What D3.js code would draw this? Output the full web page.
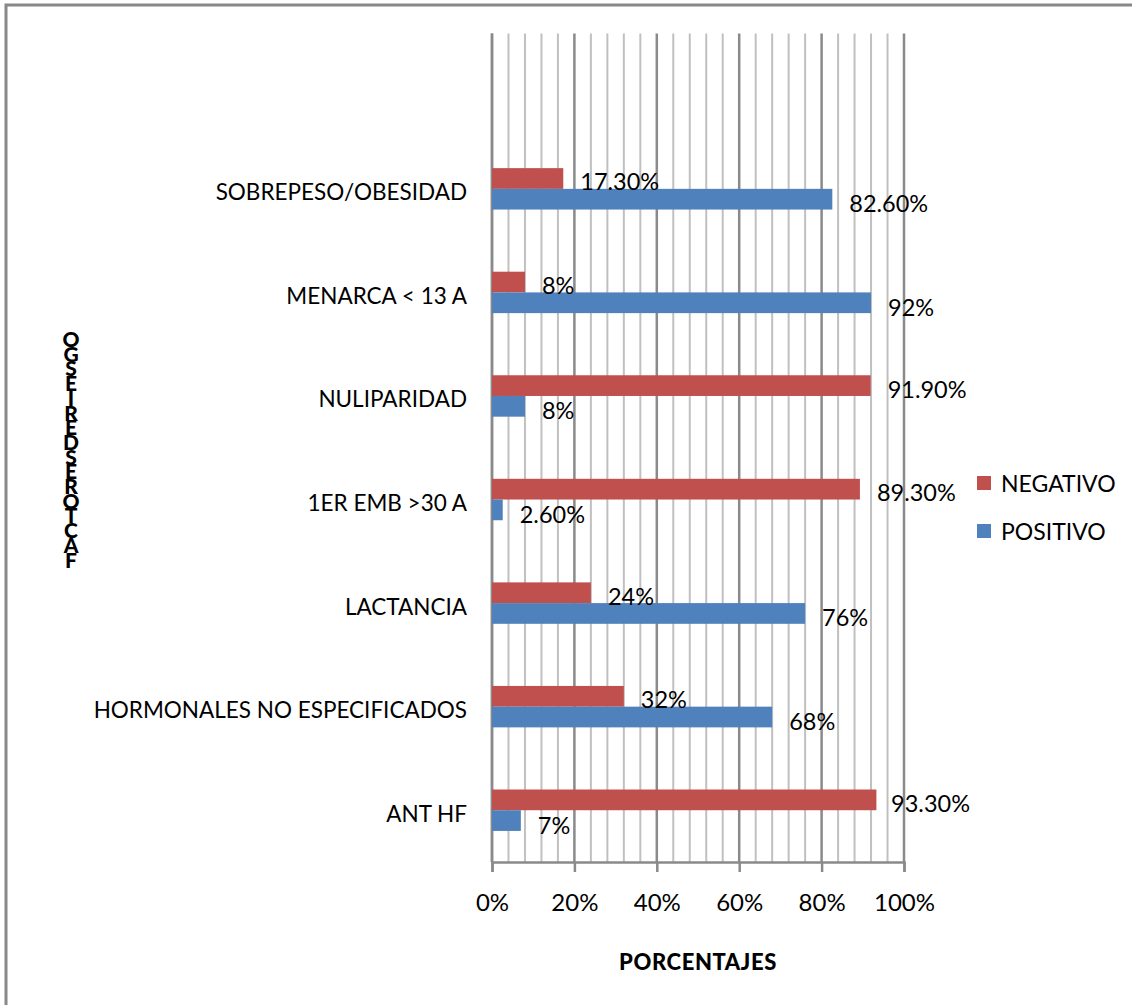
<!DOCTYPE html>
<html>
<head>
<meta charset="utf-8">
<script src="https://cdn.jsdelivr.net/npm/d3@7"></script>
<style>
  html, body { margin: 0; padding: 0; background: #fff; }
  svg { display: block; font-family: Lato, "Open Sans", "Liberation Sans", sans-serif; }
</style>
</head>
<body>
<svg id="chart" width="1132" height="1005"></svg>
<script>
// Risk factors (top to bottom) and the share of each result
const categories = [
  "SOBREPESO/OBESIDAD",
  "MENARCA < 13 A",
  "NULIPARIDAD",
  "1ER EMB >30 A",
  "LACTANCIA",
  "HORMONALES NO ESPECIFICADOS",
  "ANT HF"
];
const negativo = [17.3, 8, 91.9, 89.3, 24, 32, 93.3];
const positivo = [82.6, 92, 8, 2.6, 76, 68, 7];
const seriesNames = ["NEGATIVO", "POSITIVO"];
const seriesColors = ["#C0504D", "#4F81BD"];
const xTicks = [0, 20, 40, 60, 80, 100];
const xTitle = "PORCENTAJES";
const yTitle = "FACTORES DE RIESGO";

const svg = d3.select("#chart");

// chart frame
svg.append("rect")
  .attr("x", 6).attr("y", 5)
  .attr("width", 1140).attr("height", 1010)
  .attr("fill", "none").attr("stroke", "#888").attr("stroke-width", 3);

const plot = { left: 492, right: 904, top: 33.5, bottom: 862 };

const x = d3.scaleLinear().domain([0, 100]).range([plot.left, plot.right]);
// the category axis keeps an empty leading slot above the first factor
const y = d3.scaleBand().domain(["", ...categories]).range([plot.top, plot.bottom]).padding(0);
const ySub = d3.scaleBand().domain(seriesNames).range([0, y.bandwidth()])
  .paddingInner(0).paddingOuter(1.5);

// vertical gridlines: minor every 4 %, major every 20 %
const minor = d3.range(0, 101, 4).filter(v => v % 20 !== 0);
svg.append("g").selectAll("line").data(minor).join("line")
  .attr("x1", d => x(d)).attr("x2", d => x(d))
  .attr("y1", plot.top).attr("y2", plot.bottom)
  .attr("stroke", "#c0c0c0").attr("stroke-width", 2);
svg.append("g").selectAll("line").data(xTicks).join("line")
  .attr("x1", d => x(d)).attr("x2", d => x(d))
  .attr("y1", plot.top).attr("y2", plot.bottom)
  .attr("stroke", "#8a8a8a").attr("stroke-width", 2.5);

// bottom axis with percent labels
const xAxis = d3.axisBottom(x).tickValues(xTicks).tickSize(10).tickPadding(22)
  .tickFormat(d => d + "%");
const gx = svg.append("g").attr("transform", `translate(0,${plot.bottom})`).call(xAxis);
gx.select(".domain").attr("stroke", "#8a8a8a").attr("stroke-width", 2.5);
gx.selectAll(".tick line").attr("stroke", "#8a8a8a").attr("stroke-width", 2.5);
gx.selectAll(".tick text").attr("font-size", 24).attr("fill", "#000")
  .attr("font-family", "Lato, sans-serif");

// left axis line
svg.append("line")
  .attr("x1", plot.left).attr("x2", plot.left)
  .attr("y1", plot.top).attr("y2", plot.bottom)
  .attr("stroke", "#8a8a8a").attr("stroke-width", 2.5);

// category labels
svg.append("g").selectAll("text").data(categories).join("text")
  .attr("x", 467)
  .attr("y", d => y(d) + y.bandwidth() / 2 + 3)
  .attr("text-anchor", "end")
  .attr("dominant-baseline", "central")
  .attr("font-size", 22.5)
  .text(d => d);

// bars
const rows = categories.map((c, i) => ({ cat: c, vals: [negativo[i], positivo[i]] }));
const fmt = v => (v % 1 === 0 ? v + "%" : v.toFixed(2) + "%");

const barG = svg.append("g");
rows.forEach(r => {
  r.vals.forEach((v, k) => {
    const by = y(r.cat) + ySub(seriesNames[k]);
    barG.append("rect")
      .attr("x", x(0))
      .attr("y", by)
      .attr("width", x(v) - x(0))
      .attr("height", ySub.bandwidth())
      .attr("fill", seriesColors[k]);
  });
});

// value labels placed beyond each bar end, kept inside the chart's label zone
const labelG = svg.append("g");
rows.forEach(r => {
  r.vals.forEach((v, k) => {
    const by = y(r.cat) + ySub(seriesNames[k]) + ySub.bandwidth() / 2;
    const t = labelG.append("text")
      .attr("y", by + 3 + k)
      .attr("dominant-baseline", "central")
      .attr("font-size", 23.5)
      .text(fmt(v));
    const w = t.node().getComputedTextLength();
    t.attr("x", Math.min(x(v) + 17, 970 - w));
  });
});

// x axis title
svg.append("text")
  .attr("x", (plot.left + plot.right) / 2)
  .attr("y", 961)
  .attr("text-anchor", "middle")
  .attr("dominant-baseline", "central")
  .attr("font-size", 22)
  .attr("font-weight", 900)
  .attr("letter-spacing", 0.6)
  .text(xTitle);

// y axis title, letters stacked bottom-up (spaces take no room)
const stacked = yTitle.replace(/\s+/g, "").split("").reverse();
svg.append("g").selectAll("text").data(stacked).join("text")
  .attr("x", 71)
  .attr("y", (d, i) => 347 + i * 14.7)
  .attr("text-anchor", "middle")
  .attr("font-size", 21)
  .attr("font-weight", 900)
  .text(d => d);

// legend
const legend = svg.append("g");
seriesNames.forEach((s, i) => {
  const ly = 483 + i * 48;
  legend.append("rect")
    .attr("x", 977).attr("y", ly - 7)
    .attr("width", 14).attr("height", 14)
    .attr("fill", seriesColors[i]);
  legend.append("text")
    .attr("x", 1001).attr("y", ly)
    .attr("dominant-baseline", "central")
    .attr("font-size", 23)
    .text(s);
});
</script>
</body>
</html>
